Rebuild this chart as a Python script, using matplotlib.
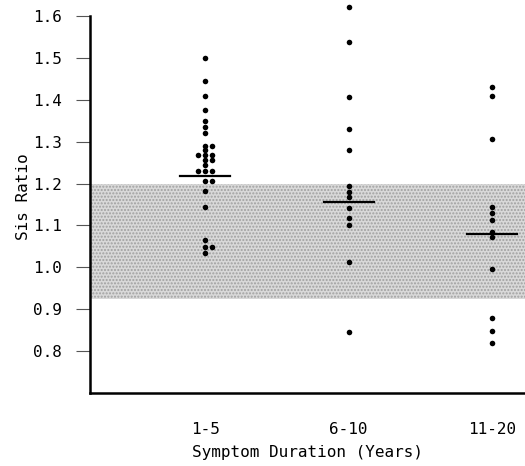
import numpy as np
import matplotlib

matplotlib.use('Agg')
import matplotlib.pyplot as plt

# values
groups = ['1-5', '6-10', '11-20']
ratio_1_5 = [1.50, 1.445, 1.41, 1.375, 1.35, 1.335, 1.32, 1.29, 1.29, 1.28,
             1.267, 1.267, 1.267, 1.255, 1.255, 1.245, 1.23, 1.23, 1.23,
             1.205, 1.205, 1.182, 1.145, 1.065, 1.048, 1.048, 1.035]
ratio_6_10 = [1.622, 1.537, 1.406, 1.329, 1.279, 1.195, 1.179, 1.168, 1.142,
              1.117, 1.101, 1.013, 0.846]
ratio_11_20 = [1.430, 1.409, 1.306, 1.144, 1.130, 1.114, 1.084, 1.073, 0.996,
               0.878, 0.848, 0.819]
medians = [1.218, 1.157, 1.079]
normal_range = (0.925, 1.2)
y_ticks = [0.8, 0.9, 1.0, 1.1, 1.2, 1.3, 1.4, 1.5, 1.6]

font = 'DejaVu Sans Mono'


def spread(values, step=0.05):
    """equal values side by side: centre, right, left"""
    seen = {}
    offs = []
    for v in values:
        k = seen.get(v, 0)
        seen[v] = k + 1
        offs.append([0, 1, -1, 2, -2][k] * step)
    return np.array(offs)


fig = plt.figure(figsize=(5.25, 4.66), dpi=100)
ax = fig.add_axes([0.1714, 0.1567, 0.8286, 0.8433])

# shaded normal range
ax.axhspan(normal_range[0], normal_range[1], facecolor='#d9d9d9',
           edgecolor='#a0a0a0', hatch='.....', linewidth=0, zorder=0)

xpos = np.arange(1, len(groups) + 1)
for x, vals, med in zip(xpos, [ratio_1_5, ratio_6_10, ratio_11_20], medians):
    vals = np.array(vals)
    ax.scatter(x + spread(list(vals)), vals, s=16, color='black', zorder=3,
               linewidths=0)
    ax.plot([x - 0.175, x + 0.175], [med, med], color='black', lw=1.6, zorder=4)

ax.set_xlim(0.197, 3.229)
ax.set_ylim(0.70, 1.638)

ax.spines['top'].set_visible(False)
ax.spines['right'].set_visible(False)
ax.spines['left'].set_linewidth(1.8)
ax.spines['bottom'].set_linewidth(1.8)
ax.spines['left'].set_bounds(0.70, 1.6)

ax.set_yticks(y_ticks)
ax.set_yticklabels(['%.1f' % t for t in y_ticks], fontfamily=font, fontsize=11.5)
ax.tick_params(axis='y', length=10, width=0.8, color='#555555', pad=10)

ax.set_xticks(xpos)
ax.set_xticklabels(groups, fontfamily=font, fontsize=11.5)
ax.tick_params(axis='x', length=0, pad=21)

ax.set_xlabel('Symptom Duration (Years)', fontfamily=font, fontsize=11.5,
              labelpad=6)
ax.set_ylabel('Sis Ratio', fontfamily=font, fontsize=11.5, labelpad=2)

fig.savefig('out.png', dpi=100)
